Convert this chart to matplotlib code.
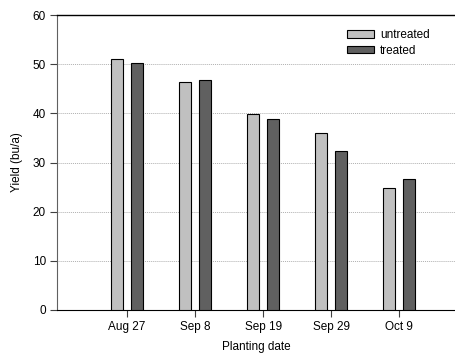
import numpy as np
import matplotlib.pyplot as plt

# Yield by planting date, untreated vs treated
dates = ["Aug 27", "Sep 8", "Sep 19", "Sep 29", "Oct 9"]
untreated = [51.0, 46.3, 39.9, 35.9, 24.9]
treated = [50.2, 46.7, 38.9, 32.3, 26.6]

plt.rcParams["font.family"] = ["Liberation Sans", "DejaVu Sans"]
plt.rcParams["font.size"] = 8.5

fig = plt.figure(figsize=(4.56, 3.56), dpi=100)
ax = fig.add_axes([57 / 456, 46 / 356, 398 / 456, 295 / 356])

x = np.arange(len(dates))
w = 0.176
off = 0.147
ax.bar(x - off, untreated, w, color="#c0c0c0", edgecolor="black", linewidth=0.8,
       label="untreated", zorder=3)
ax.bar(x + off, treated, w, color="#606060", edgecolor="black", linewidth=0.8,
       label="treated", zorder=3)

ax.set_xlim(-1.03, 4.82)
ax.set_ylim(0, 60)
ax.set_xticks(x)
ax.set_xticklabels(dates)
ax.set_yticks(range(0, 61, 10))
for yv in range(10, 60, 10):
    ax.axhline(yv, color="#b0b0b0", linestyle=(0, (1, 1)), linewidth=0.7, zorder=1)

ax.spines["right"].set_visible(False)
ax.spines["left"].set_color("#606060")
ax.spines["top"].set_linewidth(1.0)
ax.tick_params(direction="out", length=5, width=0.8, color="#404040", pad=3)

ax.set_ylabel("Yield (bu/a)", labelpad=7)
ax.set_xlabel("Planting date", labelpad=6)

fig.legend(loc="upper left", bbox_to_anchor=(347 / 456, 1 - 29 / 356), frameon=False,
           borderpad=0, borderaxespad=0, handlelength=2.3, handleheight=0.6,
           handletextpad=0.5, labelspacing=0.3)

fig.savefig("out.png", dpi=100)
